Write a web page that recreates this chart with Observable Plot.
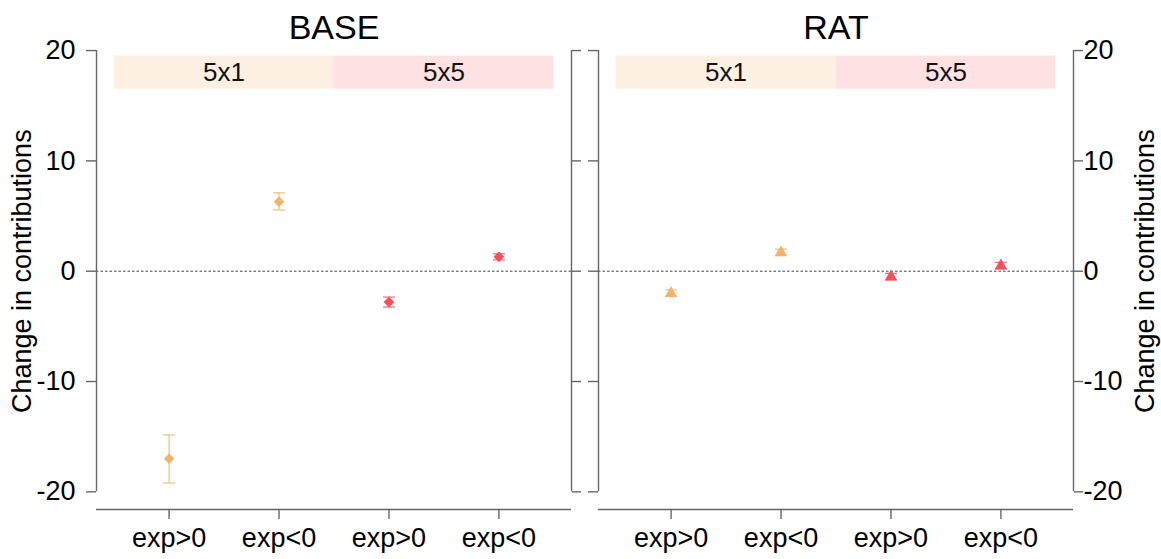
<!DOCTYPE html>
<html>
<head>
<meta charset="utf-8">
<script src="https://cdn.jsdelivr.net/npm/d3@7"></script>
<script src="https://cdn.jsdelivr.net/npm/@observablehq/plot@0.6"></script>
<style>
  html, body { margin: 0; padding: 0; background: #fff; }
  #chart svg { display: block; overflow: visible; }
</style>
</head>
<body>
<div id="chart"></div>
<script>
// ---- data ----
const panels = ["BASE", "RAT"];
const positions = [1, 2, 3, 4];
const conditions = ["exp>0", "exp<0", "exp>0", "exp<0"];
const groups = ["5x1", "5x1", "5x5", "5x5"];
const baseMean = [-17.0, 6.3, -2.8, 1.3];
const baseLow  = [-19.2, 5.55, -3.25, 1.03];
const baseHigh = [-14.85, 7.1, -2.35, 1.58];
const ratMean = [-2.0, 1.7, -0.5, 0.5];
const ratLow  = [-2.3, 1.4, -0.8, 0.2];
const ratHigh = [-1.7, 2.0, -0.2, 0.8];
const stripLabels = ["5x1", "5x5"];
const stripFrom = [0.5, 2.5];
const stripTo = [2.5, 4.5];
const stripY = [16.5, 19.5];
const yTicks = [-20, -10, 0, 10, 20];
const xlim = [0.5, 4.5];
const ylim = [-20, 20];

// ---- styles ----
const pointColor = {"5x1": "#F2B46C", "5x5": "#F0525C"};
const stripColor = {"5x1": "#FDF0E3", "5x5": "#FDE1E3"};
const axisColor = "#666";
const font = "'Liberation Sans', Arial, Helvetica, sans-serif";

// R-style 4% axis extension
const ext = (l) => { const d = (l[1] - l[0]) * 0.04; return [l[0] - d, l[1] + d]; };
const xDomain = ext(xlim);
const yDomain = ext(ylim);

const points = [];
panels.forEach((p) => {
  const m = p === "BASE" ? baseMean : ratMean;
  const lo = p === "BASE" ? baseLow : ratLow;
  const hi = p === "BASE" ? baseHigh : ratHigh;
  positions.forEach((x, i) => points.push({panel: p, x, cond: conditions[i], group: groups[i], mean: m[i], low: lo[i], high: hi[i]}));
});
const strips = [];
panels.forEach((p) => stripLabels.forEach((s, i) => strips.push({panel: p, label: s, x1: stripFrom[i], x2: stripTo[i]})));

const capSymbol = {
  draw(context, size) {
    const h = Math.sqrt(size / Math.PI);
    context.moveTo(-h, 0);
    context.lineTo(h, 0);
  }
};

const chart = Plot.plot({
  width: 1161,
  height: 559,
  marginLeft: 96,
  marginRight: 88,
  marginTop: 32.4,
  marginBottom: 50,
  style: {fontFamily: font, background: "#fff", overflow: "visible"},
  fx: {domain: panels, axis: null, paddingInner: 0.0538, paddingOuter: 0, round: false},
  x: {domain: xDomain, axis: null},
  y: {domain: yDomain, axis: null},
  color: {type: "identity"},
  marks: [
    // strips
    Plot.rect(strips, {fx: "panel", x1: "x1", x2: "x2", y1: stripY[0], y2: stripY[1], fill: (d) => stripColor[d.label]}),
    Plot.text(strips, {fx: "panel", x: (d) => (d.x1 + d.x2) / 2, y: (stripY[0] + stripY[1]) / 2, text: "label", fontSize: 26, fill: "#111"}),
    // zero line
    Plot.ruleY([0], {stroke: "#444", strokeWidth: 1, strokeDasharray: "2.5,2"}),
    // axis lines
    Plot.ruleX([xDomain[0], xDomain[1]], {y1: ylim[0], y2: ylim[1], stroke: axisColor, strokeWidth: 1.4}),
    Plot.ruleY([yDomain[0]], {stroke: axisColor, strokeWidth: 1.4}),
    // y ticks on both sides of every panel
    Plot.axisY(yTicks, {anchor: "left", facetAnchor: null, tickSize: 10, stroke: axisColor, strokeWidth: 1.4, fill: "none", label: null}),
    Plot.axisY(yTicks, {anchor: "right", facetAnchor: null, tickSize: 9, stroke: axisColor, strokeWidth: 1.4, fill: "none", label: null}),
    Plot.axisY(yTicks, {anchor: "left", facetAnchor: "left", tickSize: 10, tickPadding: 11, stroke: "none", fontSize: 27, fill: "#000", tickFormat: (d) => String(d), label: null}),
    Plot.axisY(yTicks, {anchor: "right", facetAnchor: "right", tickSize: 9, tickPadding: 1, stroke: "none", fontSize: 27, fill: "#000", tickFormat: (d) => String(d), label: null}),
    // x ticks
    Plot.axisX(positions, {anchor: "bottom", facetAnchor: null, tickSize: 10, tickPadding: 8, stroke: axisColor, strokeWidth: 1.4, fontSize: 27, fill: "#000", tickFormat: (d) => conditions[d - 1], label: null}),
    // error bars
    Plot.ruleX(points, {fx: "panel", x: "x", y1: "low", y2: "high", stroke: (d) => pointColor[d.group], strokeOpacity: 0.8, strokeWidth: 1.3}),
    Plot.dot(points, {fx: "panel", x: "x", y: "low", symbol: capSymbol, r: 6, fill: "none", stroke: (d) => pointColor[d.group], strokeOpacity: 0.8, strokeWidth: 1.3}),
    Plot.dot(points, {fx: "panel", x: "x", y: "high", symbol: capSymbol, r: 6, fill: "none", stroke: (d) => pointColor[d.group], strokeOpacity: 0.8, strokeWidth: 1.3}),
    // points
    Plot.dot(points.filter((d) => d.panel === "BASE"), {fx: "panel", x: "x", y: "mean", symbol: "diamond2", r: 4.8, fill: (d) => pointColor[d.group], stroke: "none"}),
    Plot.dot(points.filter((d) => d.panel === "RAT"), {fx: "panel", x: "x", y: "mean", symbol: "triangle", r: 4.6, fill: (d) => pointColor[d.group], stroke: "none"}),
    // panel titles
    Plot.text(panels.map((p) => ({panel: p})), {fx: "panel", frameAnchor: "top", lineAnchor: "middle", text: "panel", fontSize: 34, dy: -4.5, fill: "#000"}),
    // y titles
    Plot.text([{panel: panels[0]}], {fx: "panel", frameAnchor: "left", textAnchor: "middle", lineAnchor: "middle", text: () => "Change in contributions", rotate: -90, dx: -74, fontSize: 27, fill: "#000"}),
    Plot.text([{panel: panels[1]}], {fx: "panel", frameAnchor: "right", textAnchor: "middle", lineAnchor: "middle", text: () => "Change in contributions", rotate: -90, dx: 72, fontSize: 27, fill: "#000"})
  ]
});
document.getElementById("chart").appendChild(chart);
</script>
</body>
</html>
